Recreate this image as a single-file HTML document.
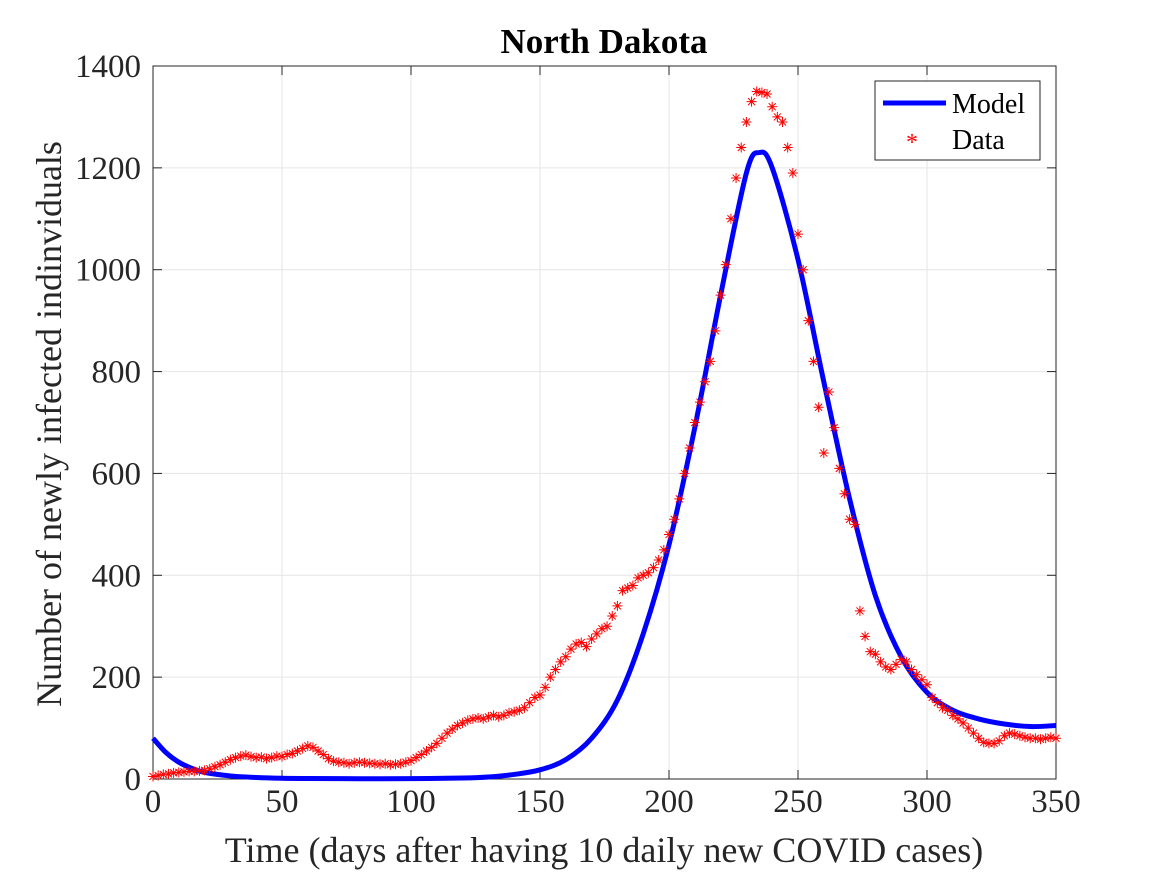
<!DOCTYPE html>
<html><head><meta charset="utf-8"><style>
body{margin:0;background:#fff}
svg{display:block;font-family:"Liberation Serif",serif}
</style></head><body>
<svg id="chart" width="1167" height="875">
<rect width="1167" height="875" fill="#fff"/>
<g id="grid"></g>
<g id="ticks"></g>
<rect x="153" y="66" width="903" height="713" fill="none" stroke="#262626" stroke-width="1"/>
<g id="model"></g>
<g id="data"></g>
<text x="604" y="53" text-anchor="middle" font-size="35" font-weight="bold">North Dakota</text>
<text x="604" y="862" text-anchor="middle" font-size="36" fill="#262626">Time (days after having 10 daily new COVID cases)</text>
<text transform="translate(61,424) rotate(-90)" text-anchor="middle" font-size="36" fill="#262626">Number of newly infected indinviduals</text>
<g>
<rect x="875" y="81" width="165" height="79" fill="#fff" stroke="#262626" stroke-width="1"/>
<line x1="883" y1="103" x2="946" y2="103" stroke="#0000ff" stroke-width="5"/>
<text x="952" y="113" font-size="28">Model</text>
<text x="912" y="150" text-anchor="middle" font-size="24" fill="#ff0000">*</text>
<text x="952" y="149" font-size="28">Data</text>
</g>
</svg>
<script>
const xTicks=[0,50,100,150,200,250,300,350];
const yTicks=[0,200,400,600,800,1000,1200,1400];
const modelDays=[0,5,10,15,20,30,40,50,60,80,100,120,130,140,150,160,170,180,190,200,210,220,230,235,240,250,260,270,280,290,300,310,320,330,340,350];
const modelVals=[80,52,33,21,13,6,3,1.5,1,0.5,0.7,2,4,9,18,38,80,155,285,460,690,950,1190,1230,1200,1020,780,550,360,240,170,135,118,108,103,105];
const dataVals=[5,7,9,10,12,13,14,15,15,16,17,
20,24,28,33,38,42,45,47,44,42,
43,40,42,45,44,48,50,55,60,
65,62,55,48,40,35,33,32,30,32,
33,32,31,30,29,30,28,29,30,33,
36,42,48,55,62,70,80,90,98,105,
110,115,118,120,118,122,125,122,125,130,
132,135,140,150,160,165,180,200,215,230,
240,255,265,268,260,275,285,295,300,320,
340,370,375,380,395,400,405,415,430,450,
480,510,550,600,650,700,740,780,820,880,
950,1010,1100,1180,1240,1290,1330,1350,1348,1345,
1320,1300,1290,1240,1190,1070,1000,900,820,730,
640,760,690,610,560,510,500,330,280,250,
245,230,220,215,225,235,230,215,205,195,
185,160,150,140,135,125,118,110,100,90,
80,72,70,70,75,85,90,88,85,82,
80,80,78,80,82,80];
const dataStep=2;
const X=v=>153+v/350*903, Y=v=>779-v/1400*713;
const NS="http://www.w3.org/2000/svg";
const grid=document.getElementById('grid'),ticks=document.getElementById('ticks');
function mk(t,a,p){const e=document.createElementNS(NS,t);for(const k in a)e.setAttribute(k,a[k]);p.appendChild(e);return e;}
xTicks.forEach(t=>{
 const g=mk('line',{x1:X(t),x2:X(t),y1:66,y2:779,stroke:'#e6e6e6','stroke-width':1},grid);
 
 
 mk('line',{x1:X(t),x2:X(t),y1:779,y2:770,stroke:'#262626'},ticks);
 mk('line',{x1:X(t),x2:X(t),y1:66,y2:75,stroke:'#262626'},ticks);
 const l=mk('text',{x:X(t),y:812,'text-anchor':'middle','font-size':33,fill:'#262626'},ticks);
 l.textContent=t;
 
 
});
yTicks.forEach(t=>{
 const g=mk('line',{x1:153,x2:1056,y1:Y(t),y2:Y(t),stroke:'#e6e6e6','stroke-width':1},grid);
 
 
 mk('line',{x1:153,x2:162,y1:Y(t),y2:Y(t),stroke:'#262626'},ticks);
 mk('line',{x1:1056,x2:1047,y1:Y(t),y2:Y(t),stroke:'#262626'},ticks);
 const l=mk('text',{x:141,y:Y(t)+11,'text-anchor':'end','font-size':33,fill:'#262626'},ticks);
 l.textContent=t;
 
 
});
const pts=modelDays.map((d,i)=>[X(d),Y(modelVals[i])]);
let dpath='M'+pts[0][0]+','+pts[0][1];
for(let i=0;i<pts.length-1;i++){
 const p0=pts[Math.max(0,i-1)],p1=pts[i],p2=pts[i+1],p3=pts[Math.min(pts.length-1,i+2)];
 const c1=[p1[0]+(p2[0]-p0[0])/6,p1[1]+(p2[1]-p0[1])/6],c2=[p2[0]-(p3[0]-p1[0])/6,p2[1]-(p3[1]-p1[1])/6];
 dpath+=`C${c1[0]},${c1[1]} ${c2[0]},${c2[1]} ${p2[0]},${p2[1]}`;
}
const mp=mk('path',{d:dpath,fill:'none',stroke:'#0000ff','stroke-width':5},document.getElementById('model'));


const dg=document.getElementById('data');
dataVals.forEach((v,i)=>{
 const cx=X(i*dataStep),cy=Y(v),r=5;
 const g=mk('path',{d:`M${cx-r},${cy}H${cx+r}M${cx},${cy-r}V${cy+r}M${cx-3.5},${cy-3.5}L${cx+3.5},${cy+3.5}M${cx-3.5},${cy+3.5}L${cx+3.5},${cy-3.5}`,stroke:'#ff0000','stroke-width':1,fill:'none'},dg);
 
 
});
</script>
</body></html>
